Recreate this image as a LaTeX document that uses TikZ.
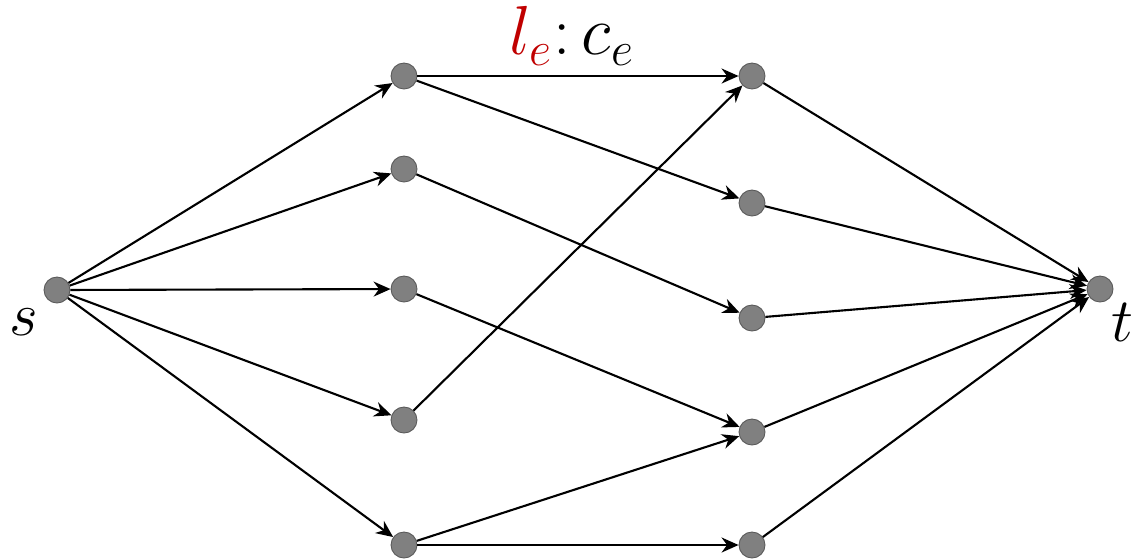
\documentclass[tikz,border=0pt]{standalone}
\usepackage{tikz}
\usetikzlibrary{arrows.meta}
\definecolor{lblred}{HTML}{C00000}

\begin{document}
\begin{tikzpicture}[x=0.02cm, y=-0.02cm,
        vtx/.style={circle, draw=black!65, fill=black!50, line width=0.5pt,
                    minimum size=0.52cm, inner sep=0pt},
        edge/.style={->, line width=1.2pt},
        lbl/.style={font=\huge, scale=1.7},
        >={Stealth[length=0.34cm, width=0.3cm]}
    ]
        \useasboundingbox (0,0) rectangle (1132,559);

        \node[vtx] (s) at (57,290) {};
        \node[vtx] (t) at (1100,289) {};

        \node[vtx] (a1) at (404,76) {};
        \node[vtx] (a2) at (404,169) {};
        \node[vtx] (a3) at (404,289) {};
        \node[vtx] (a4) at (404,420) {};
        \node[vtx] (a5) at (404,545) {};

        \node[vtx] (b1) at (752,76) {};
        \node[vtx] (b2) at (752,203) {};
        \node[vtx] (b3) at (752,318) {};
        \node[vtx] (b4) at (752,432) {};
        \node[vtx] (b5) at (752,545) {};

        \node[lbl] (sl) at (24,322) {$s$};
        \node[lbl] (tl) at (1122,322) {$t$};
        \node[lbl, scale=1.12] (ce) at (572,36) {$\textcolor{lblred}{l_e}{:}\,c_e$};

        % source to first column
        \foreach \i in {1,...,5}
            \draw[edge] (s) -- (a\i);

        % middle edges
        \draw[edge] (a1) -- (b1);
        \draw[edge] (a1) -- (b2);
        \draw[edge] (a2) -- (b3);
        \draw[edge] (a3) -- (b4);
        \draw[edge] (a4) -- (b1);
        \draw[edge] (a5) -- (b4);
        \draw[edge] (a5) -- (b5);

        % second column to sink
        \foreach \i in {1,...,5}
            \draw[edge] (b\i) -- (t);
    \end{tikzpicture}
\end{document}
